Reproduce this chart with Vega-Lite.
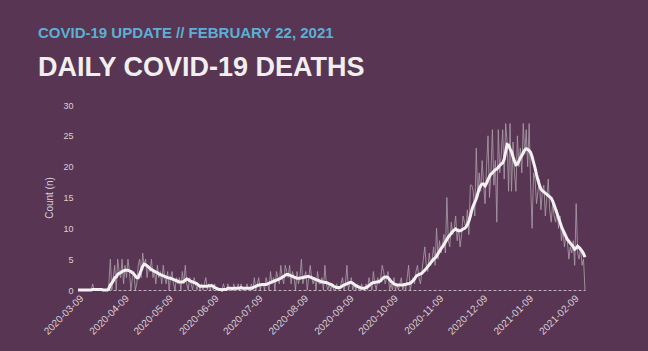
{
  "$schema": "https://vega.github.io/schema/vega-lite/v6.json",
  "width": 507,
  "height": 185,
  "autosize": {"type": "none"},
  "padding": {"left": 78, "top": 105, "right": 63, "bottom": 61},
  "background": "#583552",
  "config": {"view": {"stroke": null}, "font": "Liberation Sans"},
  "title": {
    "text": "COVID-19 UPDATE // FEBRUARY 22, 2021",
    "subtitle": "DAILY COVID-19 DEATHS",
    "anchor": "start",
    "frame": "group",
    "dx": -40,
    "offset": 20,
    "color": "#5bb0d4",
    "fontSize": 15,
    "fontWeight": "bold",
    "subtitleColor": "#f1eef0",
    "subtitleFontSize": 27,
    "subtitleFontWeight": "bold",
    "subtitlePadding": 14.5
  },
  "data": {"values": [
{"date":"2020-03-09","n":0,"a":0},{"date":"2020-03-10","n":0,"a":0},{"date":"2020-03-11","n":0,"a":0},{"date":"2020-03-12","n":0,"a":0},{"date":"2020-03-13","n":0,"a":0},{"date":"2020-03-14","n":0,"a":0},{"date":"2020-03-15","n":0,"a":0},{"date":"2020-03-16","n":0,"a":0},{"date":"2020-03-17","n":0,"a":0},{"date":"2020-03-18","n":0,"a":0},
{"date":"2020-03-19","n":1,"a":0.1},{"date":"2020-03-20","n":0,"a":0.1},{"date":"2020-03-21","n":0,"a":0.1},{"date":"2020-03-22","n":0,"a":0.1},{"date":"2020-03-23","n":0,"a":0.1},{"date":"2020-03-24","n":0,"a":0.1},{"date":"2020-03-25","n":0,"a":0.1},{"date":"2020-03-26","n":0,"a":0},{"date":"2020-03-27","n":0,"a":0},{"date":"2020-03-28","n":0,"a":0},
{"date":"2020-03-29","n":0,"a":0},{"date":"2020-03-30","n":1,"a":0.2},{"date":"2020-03-31","n":5,"a":0.8},{"date":"2020-04-01","n":0,"a":1.1},{"date":"2020-04-02","n":2,"a":1.5},{"date":"2020-04-03","n":4,"a":2.0},{"date":"2020-04-04","n":0,"a":2.1},{"date":"2020-04-05","n":5,"a":2.5},{"date":"2020-04-06","n":3,"a":2.7},{"date":"2020-04-07","n":2,"a":2.8},
{"date":"2020-04-08","n":5,"a":3.0},{"date":"2020-04-09","n":1,"a":3.1},{"date":"2020-04-10","n":4,"a":3.2},{"date":"2020-04-11","n":2,"a":3.2},{"date":"2020-04-12","n":5,"a":3.2},{"date":"2020-04-13","n":3,"a":3.1},{"date":"2020-04-14","n":0,"a":3.0},{"date":"2020-04-15","n":2,"a":2.8},{"date":"2020-04-16","n":3,"a":2.6},{"date":"2020-04-17","n":0,"a":2.3},
{"date":"2020-04-18","n":1,"a":2.0},{"date":"2020-04-19","n":4,"a":2.0},{"date":"2020-04-20","n":5,"a":2.6},{"date":"2020-04-21","n":2,"a":3.2},{"date":"2020-04-22","n":6,"a":3.8},{"date":"2020-04-23","n":4,"a":4.2},{"date":"2020-04-24","n":5,"a":4.1},{"date":"2020-04-25","n":2,"a":3.9},{"date":"2020-04-26","n":4,"a":3.7},{"date":"2020-04-27","n":3,"a":3.5},
{"date":"2020-04-28","n":5,"a":3.3},{"date":"2020-04-29","n":2,"a":3.2},{"date":"2020-04-30","n":3,"a":3.0},{"date":"2020-05-01","n":1,"a":2.9},{"date":"2020-05-02","n":4,"a":2.8},{"date":"2020-05-03","n":2,"a":2.6},{"date":"2020-05-04","n":3,"a":2.5},{"date":"2020-05-05","n":1,"a":2.4},{"date":"2020-05-06","n":4,"a":2.3},{"date":"2020-05-07","n":2,"a":2.2},
{"date":"2020-05-08","n":1,"a":2.1},{"date":"2020-05-09","n":3,"a":2.0},{"date":"2020-05-10","n":0,"a":1.95},{"date":"2020-05-11","n":2,"a":1.9},{"date":"2020-05-12","n":3,"a":1.8},{"date":"2020-05-13","n":1,"a":1.7},{"date":"2020-05-14","n":0,"a":1.6},{"date":"2020-05-15","n":2,"a":1.5},{"date":"2020-05-16","n":1,"a":1.4},{"date":"2020-05-17","n":2,"a":1.3},
{"date":"2020-05-18","n":0,"a":1.3},{"date":"2020-05-19","n":3,"a":1.3},{"date":"2020-05-20","n":1,"a":1.4},{"date":"2020-05-21","n":4,"a":1.6},{"date":"2020-05-22","n":1,"a":1.8},{"date":"2020-05-23","n":0,"a":1.7},{"date":"2020-05-24","n":2,"a":1.5},{"date":"2020-05-25","n":1,"a":1.4},{"date":"2020-05-26","n":0,"a":1.3},{"date":"2020-05-27","n":2,"a":1.2},
{"date":"2020-05-28","n":1,"a":1.1},{"date":"2020-05-29","n":0,"a":1.0},{"date":"2020-05-30","n":1,"a":0.8},{"date":"2020-05-31","n":0,"a":0.6},{"date":"2020-06-01","n":1,"a":0.6},{"date":"2020-06-02","n":0,"a":0.6},{"date":"2020-06-03","n":1,"a":0.6},{"date":"2020-06-04","n":2,"a":0.6},{"date":"2020-06-05","n":0,"a":0.6},{"date":"2020-06-06","n":1,"a":0.7},
{"date":"2020-06-07","n":0,"a":0.7},{"date":"2020-06-08","n":1,"a":0.7},{"date":"2020-06-09","n":0,"a":0.6},{"date":"2020-06-10","n":1,"a":0.4},{"date":"2020-06-11","n":0,"a":0.3},{"date":"2020-06-12","n":0,"a":0.2},{"date":"2020-06-13","n":0,"a":0.1},{"date":"2020-06-14","n":0,"a":0.1},{"date":"2020-06-15","n":0,"a":0},{"date":"2020-06-16","n":1,"a":0.1},
{"date":"2020-06-17","n":0,"a":0.1},{"date":"2020-06-18","n":0,"a":0.1},{"date":"2020-06-19","n":1,"a":0.3},{"date":"2020-06-20","n":0,"a":0.3},{"date":"2020-06-21","n":0,"a":0.3},{"date":"2020-06-22","n":0,"a":0.2},{"date":"2020-06-23","n":1,"a":0.3},{"date":"2020-06-24","n":0,"a":0.3},{"date":"2020-06-25","n":0,"a":0.3},{"date":"2020-06-26","n":1,"a":0.3},
{"date":"2020-06-27","n":0,"a":0.3},{"date":"2020-06-28","n":1,"a":0.4},{"date":"2020-06-29","n":0,"a":0.3},{"date":"2020-06-30","n":0,"a":0.3},{"date":"2020-07-01","n":0,"a":0.3},{"date":"2020-07-02","n":1,"a":0.3},{"date":"2020-07-03","n":0,"a":0.3},{"date":"2020-07-04","n":0,"a":0.3},{"date":"2020-07-05","n":1,"a":0.3},{"date":"2020-07-06","n":0,"a":0.4},
{"date":"2020-07-07","n":2,"a":0.5},{"date":"2020-07-08","n":0,"a":0.6},{"date":"2020-07-09","n":1,"a":0.7},{"date":"2020-07-10","n":2,"a":0.8},{"date":"2020-07-11","n":0,"a":0.8},{"date":"2020-07-12","n":1,"a":0.9},{"date":"2020-07-13","n":1,"a":0.9},{"date":"2020-07-14","n":0,"a":0.9},{"date":"2020-07-15","n":2,"a":0.9},{"date":"2020-07-16","n":1,"a":1.0},
{"date":"2020-07-17","n":0,"a":1.1},{"date":"2020-07-18","n":3,"a":1.2},{"date":"2020-07-19","n":1,"a":1.3},{"date":"2020-07-20","n":2,"a":1.4},{"date":"2020-07-21","n":0,"a":1.5},{"date":"2020-07-22","n":3,"a":1.6},{"date":"2020-07-23","n":2,"a":1.7},{"date":"2020-07-24","n":1,"a":1.8},{"date":"2020-07-25","n":4,"a":1.9},{"date":"2020-07-26","n":2,"a":2.1},
{"date":"2020-07-27","n":1,"a":2.2},{"date":"2020-07-28","n":4,"a":2.4},{"date":"2020-07-29","n":3,"a":2.5},{"date":"2020-07-30","n":2,"a":2.5},{"date":"2020-07-31","n":4,"a":2.4},{"date":"2020-08-01","n":1,"a":2.3},{"date":"2020-08-02","n":3,"a":2.2},{"date":"2020-08-03","n":2,"a":2.1},{"date":"2020-08-04","n":0,"a":2.0},{"date":"2020-08-05","n":3,"a":1.9},
{"date":"2020-08-06","n":1,"a":1.9},{"date":"2020-08-07","n":2,"a":1.9},{"date":"2020-08-08","n":5,"a":2.0},{"date":"2020-08-09","n":1,"a":2.0},{"date":"2020-08-10","n":2,"a":2.1},{"date":"2020-08-11","n":3,"a":2.1},{"date":"2020-08-12","n":0,"a":2.2},{"date":"2020-08-13","n":2,"a":2.2},{"date":"2020-08-14","n":4,"a":2.1},{"date":"2020-08-15","n":2,"a":2.0},
{"date":"2020-08-16","n":1,"a":1.9},{"date":"2020-08-17","n":2,"a":1.8},{"date":"2020-08-18","n":0,"a":1.7},{"date":"2020-08-19","n":3,"a":1.6},{"date":"2020-08-20","n":1,"a":1.5},{"date":"2020-08-21","n":1,"a":1.4},{"date":"2020-08-22","n":2,"a":1.3},{"date":"2020-08-23","n":0,"a":1.3},{"date":"2020-08-24","n":4,"a":1.2},{"date":"2020-08-25","n":1,"a":1.2},
{"date":"2020-08-26","n":0,"a":1.1},{"date":"2020-08-27","n":1,"a":1.0},{"date":"2020-08-28","n":0,"a":0.9},{"date":"2020-08-29","n":1,"a":0.8},{"date":"2020-08-30","n":0,"a":0.6},{"date":"2020-08-31","n":0,"a":0.5},{"date":"2020-09-01","n":1,"a":0.4},{"date":"2020-09-02","n":0,"a":0.4},{"date":"2020-09-03","n":0,"a":0.4},{"date":"2020-09-04","n":1,"a":0.5},
{"date":"2020-09-05","n":2,"a":0.7},{"date":"2020-09-06","n":0,"a":0.8},{"date":"2020-09-07","n":1,"a":0.9},{"date":"2020-09-08","n":4,"a":1.0},{"date":"2020-09-09","n":0,"a":1.1},{"date":"2020-09-10","n":1,"a":1.2},{"date":"2020-09-11","n":2,"a":1.2},{"date":"2020-09-12","n":0,"a":1.1},{"date":"2020-09-13","n":1,"a":0.9},{"date":"2020-09-14","n":0,"a":0.7},
{"date":"2020-09-15","n":1,"a":0.6},{"date":"2020-09-16","n":0,"a":0.5},{"date":"2020-09-17","n":0,"a":0.4},{"date":"2020-09-18","n":1,"a":0.3},{"date":"2020-09-19","n":0,"a":0.3},{"date":"2020-09-20","n":0,"a":0.3},{"date":"2020-09-21","n":1,"a":0.4},{"date":"2020-09-22","n":0,"a":0.5},{"date":"2020-09-23","n":2,"a":0.7},{"date":"2020-09-24","n":1,"a":0.9},
{"date":"2020-09-25","n":0,"a":1.1},{"date":"2020-09-26","n":3,"a":1.2},{"date":"2020-09-27","n":1,"a":1.2},{"date":"2020-09-28","n":0,"a":1.3},{"date":"2020-09-29","n":2,"a":1.3},{"date":"2020-09-30","n":1,"a":1.4},{"date":"2020-10-01","n":2,"a":1.5},{"date":"2020-10-02","n":4,"a":1.8},{"date":"2020-10-03","n":3,"a":2.0},{"date":"2020-10-04","n":1,"a":2.1},
{"date":"2020-10-05","n":2,"a":2.1},{"date":"2020-10-06","n":3,"a":2.0},{"date":"2020-10-07","n":0,"a":1.7},{"date":"2020-10-08","n":1,"a":1.4},{"date":"2020-10-09","n":0,"a":1.2},{"date":"2020-10-10","n":2,"a":1.0},{"date":"2020-10-11","n":0,"a":0.9},{"date":"2020-10-12","n":1,"a":0.8},{"date":"2020-10-13","n":0,"a":0.8},{"date":"2020-10-14","n":1,"a":0.8},
{"date":"2020-10-15","n":2,"a":0.8},{"date":"2020-10-16","n":0,"a":0.8},{"date":"2020-10-17","n":1,"a":0.9},{"date":"2020-10-18","n":0,"a":0.9},{"date":"2020-10-19","n":2,"a":1.0},{"date":"2020-10-20","n":4,"a":1.0},{"date":"2020-10-21","n":0,"a":1.1},{"date":"2020-10-22","n":1,"a":1.3},{"date":"2020-10-23","n":2,"a":1.5},{"date":"2020-10-24","n":1,"a":1.8},
{"date":"2020-10-25","n":3,"a":2.2},{"date":"2020-10-26","n":4,"a":2.4},{"date":"2020-10-27","n":2,"a":2.5},{"date":"2020-10-28","n":1,"a":2.6},{"date":"2020-10-29","n":3,"a":2.7},{"date":"2020-10-30","n":5,"a":3.0},{"date":"2020-10-31","n":7,"a":3.2},{"date":"2020-11-01","n":4,"a":3.5},{"date":"2020-11-02","n":3,"a":3.8},{"date":"2020-11-03","n":6,"a":4.1},
{"date":"2020-11-04","n":4,"a":4.4},{"date":"2020-11-05","n":5,"a":4.7},{"date":"2020-11-06","n":7,"a":5.0},{"date":"2020-11-07","n":4,"a":5.2},{"date":"2020-11-08","n":10,"a":5.5},{"date":"2020-11-09","n":5,"a":5.9},{"date":"2020-11-10","n":8,"a":6.3},{"date":"2020-11-11","n":6,"a":6.7},{"date":"2020-11-12","n":7,"a":7.0},{"date":"2020-11-13","n":9,"a":7.4},
{"date":"2020-11-14","n":6,"a":7.8},{"date":"2020-11-15","n":15,"a":8.2},{"date":"2020-11-16","n":8,"a":8.6},{"date":"2020-11-17","n":7,"a":8.9},{"date":"2020-11-18","n":11,"a":9.2},{"date":"2020-11-19","n":9,"a":9.5},{"date":"2020-11-20","n":10,"a":9.7},{"date":"2020-11-21","n":12,"a":9.9},{"date":"2020-11-22","n":8,"a":9.7},{"date":"2020-11-23","n":10,"a":9.6},
{"date":"2020-11-24","n":7,"a":9.6},{"date":"2020-11-25","n":9,"a":9.7},{"date":"2020-11-26","n":12,"a":9.9},{"date":"2020-11-27","n":11,"a":10.0},{"date":"2020-11-28","n":10,"a":10.2},{"date":"2020-11-29","n":13,"a":10.6},{"date":"2020-11-30","n":9,"a":11.2},{"date":"2020-12-01","n":17,"a":12.0},{"date":"2020-12-02","n":17,"a":13.0},{"date":"2020-12-03","n":16,"a":13.7},
{"date":"2020-12-04","n":12,"a":14.2},{"date":"2020-12-05","n":23,"a":14.8},{"date":"2020-12-06","n":15,"a":15.6},{"date":"2020-12-07","n":19,"a":16.4},{"date":"2020-12-08","n":16,"a":16.9},{"date":"2020-12-09","n":21,"a":17.2},{"date":"2020-12-10","n":17,"a":17.2},{"date":"2020-12-11","n":14,"a":16.9},{"date":"2020-12-12","n":20,"a":17.3},{"date":"2020-12-13","n":25,"a":17.9},
{"date":"2020-12-14","n":15,"a":18.4},{"date":"2020-12-15","n":19,"a":18.8},{"date":"2020-12-16","n":26,"a":19.0},{"date":"2020-12-17","n":17,"a":19.3},{"date":"2020-12-18","n":21,"a":19.5},{"date":"2020-12-19","n":11,"a":19.6},{"date":"2020-12-20","n":26,"a":19.9},{"date":"2020-12-21","n":19,"a":20.2},{"date":"2020-12-22","n":22,"a":20.4},{"date":"2020-12-23","n":26,"a":20.6},
{"date":"2020-12-24","n":18,"a":21.2},{"date":"2020-12-25","n":27,"a":22.4},{"date":"2020-12-26","n":24,"a":23.6},{"date":"2020-12-27","n":16,"a":23.5},{"date":"2020-12-28","n":27,"a":22.9},{"date":"2020-12-29","n":16,"a":22.4},{"date":"2020-12-30","n":24,"a":21.6},{"date":"2020-12-31","n":19,"a":20.9},{"date":"2021-01-01","n":16,"a":20.3},{"date":"2021-01-02","n":25,"a":20.4},
{"date":"2021-01-03","n":20,"a":20.9},{"date":"2021-01-04","n":23,"a":21.4},{"date":"2021-01-05","n":19,"a":21.8},{"date":"2021-01-06","n":27,"a":22.3},{"date":"2021-01-07","n":22,"a":22.7},{"date":"2021-01-08","n":26,"a":22.9},{"date":"2021-01-09","n":20,"a":22.8},{"date":"2021-01-10","n":27,"a":22.6},{"date":"2021-01-11","n":17,"a":22.3},{"date":"2021-01-12","n":10,"a":21.6},
{"date":"2021-01-13","n":19,"a":20.7},{"date":"2021-01-14","n":18,"a":19.8},{"date":"2021-01-15","n":14,"a":18.7},{"date":"2021-01-16","n":16,"a":17.8},{"date":"2021-01-17","n":18,"a":17.0},{"date":"2021-01-18","n":13,"a":16.4},{"date":"2021-01-19","n":16,"a":16.1},{"date":"2021-01-20","n":17,"a":15.9},{"date":"2021-01-21","n":12,"a":15.7},{"date":"2021-01-22","n":15,"a":15.5},
{"date":"2021-01-23","n":18,"a":15.3},{"date":"2021-01-24","n":13,"a":15.1},{"date":"2021-01-25","n":11,"a":14.9},{"date":"2021-01-26","n":14,"a":14.4},{"date":"2021-01-27","n":12,"a":13.8},{"date":"2021-01-28","n":11,"a":13.1},{"date":"2021-01-29","n":13,"a":12.4},{"date":"2021-01-30","n":10,"a":11.7},{"date":"2021-01-31","n":12,"a":11.0},{"date":"2021-02-01","n":8,"a":10.3},
{"date":"2021-02-02","n":10,"a":9.7},{"date":"2021-02-03","n":7,"a":9.2},{"date":"2021-02-04","n":9,"a":8.7},{"date":"2021-02-05","n":8,"a":8.2},{"date":"2021-02-06","n":5,"a":7.9},{"date":"2021-02-07","n":7,"a":7.6},{"date":"2021-02-08","n":6,"a":7.3},{"date":"2021-02-09","n":8,"a":7.0},{"date":"2021-02-10","n":4,"a":6.6},{"date":"2021-02-11","n":14,"a":6.8},
{"date":"2021-02-12","n":6,"a":7.1},{"date":"2021-02-13","n":5,"a":6.9},{"date":"2021-02-14","n":7,"a":6.6},{"date":"2021-02-15","n":4,"a":6.3},{"date":"2021-02-16","n":5,"a":5.9},{"date":"2021-02-17","n":0,"a":5.3}
  ]},
  "encoding": {
    "x": {
      "field": "date",
      "type": "temporal",
      "scale": {"type": "utc", "domain": [{"year": 2020, "month": 3, "date": 9, "utc": true}, {"year": 2021, "month": 2, "date": 17, "utc": true}]},
      "axis": {
        "title": null,
        "format": "%Y-%m-%d",
        "values": [
          {"year": 2020, "month": 3, "date": 9, "utc": true},
          {"year": 2020, "month": 4, "date": 9, "utc": true},
          {"year": 2020, "month": 5, "date": 9, "utc": true},
          {"year": 2020, "month": 6, "date": 9, "utc": true},
          {"year": 2020, "month": 7, "date": 9, "utc": true},
          {"year": 2020, "month": 8, "date": 9, "utc": true},
          {"year": 2020, "month": 9, "date": 9, "utc": true},
          {"year": 2020, "month": 10, "date": 9, "utc": true},
          {"year": 2020, "month": 11, "date": 9, "utc": true},
          {"year": 2020, "month": 12, "date": 9, "utc": true},
          {"year": 2021, "month": 1, "date": 9, "utc": true},
          {"year": 2021, "month": 2, "date": 9, "utc": true}
        ],
        "labelAngle": -45,
        "labelFontSize": 10,
        "labelColor": "#d9d0d7",
        "labelPadding": 3,
        "ticks": false,
        "tickSize": 0,
        "grid": false,
        "domain": true,
        "domainColor": "#bfb1bc",
        "domainDash": [3, 2],
        "domainWidth": 1,
        "labelFlush": false,
        "labelOverlap": false
      }
    },
    "y": {
      "type": "quantitative",
      "scale": {"domain": [0, 30], "nice": false},
      "axis": {
        "title": "Count (n)",
        "titleFontSize": 10,
        "titleFontWeight": "normal",
        "titleColor": "#d9d0d7",
        "titlePadding": 8,
        "values": [0, 5, 10, 15, 20, 25, 30],
        "labelOverlap": false,
        "labelFontSize": 9,
        "labelColor": "#d9d0d7",
        "labelPadding": 5,
        "ticks": false,
        "tickSize": 0,
        "grid": false,
        "domain": false
      }
    }
  },
  "layer": [
    {
      "mark": {"type": "line", "color": "#a89ba6", "strokeWidth": 1, "opacity": 0.85},
      "encoding": {
        "y": {
          "field": "n",
          "type": "quantitative",
          "scale": {"domain": [0, 30], "nice": false},
          "axis": {
            "title": "Count (n)",
            "titleFontSize": 10,
            "titleFontWeight": "normal",
            "titleColor": "#d9d0d7",
            "titlePadding": 8,
            "values": [0, 5, 10, 15, 20, 25, 30],
            "labelOverlap": false,
            "labelFontSize": 9,
            "labelColor": "#d9d0d7",
            "labelPadding": 5,
            "ticks": false,
            "tickSize": 0,
            "grid": false,
            "domain": false
          }
        }
      }
    },
    {
      "mark": {"type": "line", "color": "#f4f0f2", "strokeWidth": 3},
      "encoding": {
        "y": {
          "field": "a",
          "type": "quantitative",
          "scale": {"domain": [0, 30], "nice": false},
          "axis": {
            "title": "Count (n)",
            "titleFontSize": 10,
            "titleFontWeight": "normal",
            "titleColor": "#d9d0d7",
            "titlePadding": 8,
            "values": [0, 5, 10, 15, 20, 25, 30],
            "labelOverlap": false,
            "labelFontSize": 9,
            "labelColor": "#d9d0d7",
            "labelPadding": 5,
            "ticks": false,
            "tickSize": 0,
            "grid": false,
            "domain": false
          }
        }
      }
    }
  ]
}
